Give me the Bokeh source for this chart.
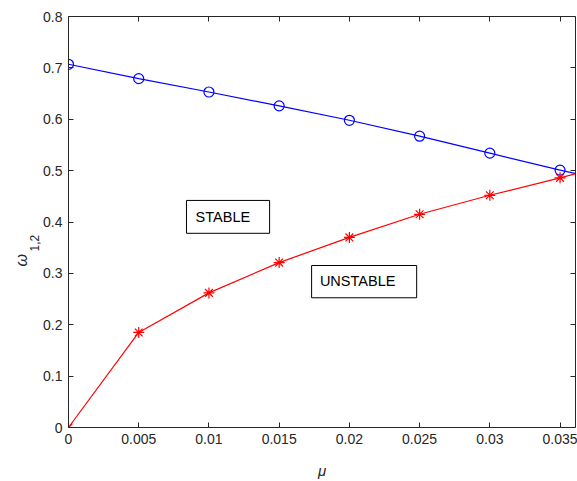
from bokeh.plotting import figure
from bokeh.models import (Range1d, LinearAxis, FixedTicker, Label, BoxAnnotation, Title)
from bokeh.embed import file_html
from bokeh.resources import INLINE

# data
mu = [0.0, 0.005, 0.01, 0.015, 0.02, 0.025, 0.03, 0.035]
omega1 = [0.707, 0.679, 0.653, 0.626, 0.598, 0.567, 0.534, 0.501]
omega2 = [0.0, 0.185, 0.262, 0.321, 0.370, 0.415, 0.452, 0.486]
# continuation of the curves beyond the visible axis limit (line only)
mu_ext = [0.035, 0.0365]
omega1_ext = [0.501, 0.492]
omega2_ext = [0.486, 0.497]

x_ticks = [0, 0.005, 0.01, 0.015, 0.02, 0.025, 0.03, 0.035]
x_tick_labels = ["0", "0.005", "0.01", "0.015", "0.02", "0.025", "0.03", "0.035"]
y_ticks = [0, 0.1, 0.2, 0.3, 0.4, 0.5, 0.6, 0.7, 0.8]
y_tick_labels = ["0", "0.1", "0.2", "0.3", "0.4", "0.5", "0.6", "0.7", "0.8"]

FONT = "Liberation Sans"
AX = "#262626"

p = figure(width=577, height=481, output_backend="svg", toolbar_location=None,
           x_range=Range1d(0, 0.0361), y_range=Range1d(0, 0.8),
           min_border_left=68, min_border_right=2, min_border_top=16, min_border_bottom=54,
           x_axis_location=None, y_axis_location=None)
p.grid.visible = False
p.outline_line_color = None
p.background_fill_color = "white"
p.border_fill_color = "white"

def style_axis(ax, labels=True):
    ax.axis_line_color = AX
    ax.axis_line_width = 1
    ax.major_tick_line_color = AX
    ax.major_tick_in = 5
    ax.major_tick_out = 0
    ax.minor_tick_in = 0
    ax.minor_tick_out = 0
    ax.major_label_text_font = FONT
    ax.major_label_text_font_size = "14px" if labels else "0px"
    ax.major_label_text_color = AX
    ax.major_label_standoff = 6 if labels else 0

xb = LinearAxis(ticker=FixedTicker(ticks=x_ticks))
xb.major_label_overrides = {t: l for t, l in zip(x_ticks, x_tick_labels)}
style_axis(xb)
xb.axis_label = "μ"
xb.axis_label_text_font = FONT
xb.axis_label_text_font_style = "italic"
xb.axis_label_text_font_size = "15px"
xb.axis_label_text_color = AX
xb.axis_label_standoff = 15
p.add_layout(xb, "below")

yl = LinearAxis(ticker=FixedTicker(ticks=y_ticks))
yl.major_label_overrides = {t: l for t, l in zip(y_ticks, y_tick_labels)}
style_axis(yl)
p.add_layout(yl, "left")

# y label "ω" with subscript "1,2", as two side titles (offset from the frame bottom)
p.add_layout(Title(text="1,2", align="left", offset=176, standoff=4,
                   text_font=FONT, text_font_size="12px", text_font_style="normal",
                   text_color=AX), "left")
p.add_layout(Title(text="ω", align="left", offset=161, standoff=-8,
                   text_font=FONT, text_font_size="16px", text_font_style="italic",
                   text_color=AX), "left")

xt = LinearAxis(ticker=FixedTicker(ticks=x_ticks))
style_axis(xt, labels=False)
xt.major_label_overrides = {t: "" for t in x_ticks}
p.add_layout(xt, "above")

yr = LinearAxis(ticker=FixedTicker(ticks=y_ticks))
style_axis(yr, labels=False)
yr.major_label_overrides = {t: "" for t in y_ticks}
p.add_layout(yr, "right")

# curves
p.line(mu_ext, omega1_ext, line_color="#0000FF", line_width=1.2)
p.line(mu_ext, omega2_ext, line_color="#FF0000", line_width=1.2)
p.line(mu, omega1, line_color="#0000FF", line_width=1.2)
p.scatter(mu, omega1, marker="circle", size=10, fill_color=None, line_color="#0000FF", line_width=1.2)
p.line(mu, omega2, line_color="#FF0000", line_width=1.2)
p.scatter(mu, omega2, marker="asterisk", size=11, line_color="#FF0000", line_width=1.2)

# text boxes
p.add_layout(BoxAnnotation(left=0.0084, right=0.01432, bottom=0.378, top=0.442,
                           fill_color=None, line_color="#000000", line_alpha=1.0, line_width=1))
p.add_layout(Label(x=0.00905, y=0.4107, text="STABLE", text_font=FONT, text_font_size="14.5px",
                   text_baseline="middle", text_align="left", text_color="#000000"))
p.add_layout(BoxAnnotation(left=0.01731, right=0.02479, bottom=0.2525, top=0.3153,
                           fill_color=None, line_color="#000000", line_alpha=1.0, line_width=1))
p.add_layout(Label(x=0.0179, y=0.286, text="UNSTABLE", text_font=FONT, text_font_size="14.5px",
                   text_baseline="middle", text_align="left", text_color="#000000"))

open("out.html", "w").write(file_html(p, INLINE))
